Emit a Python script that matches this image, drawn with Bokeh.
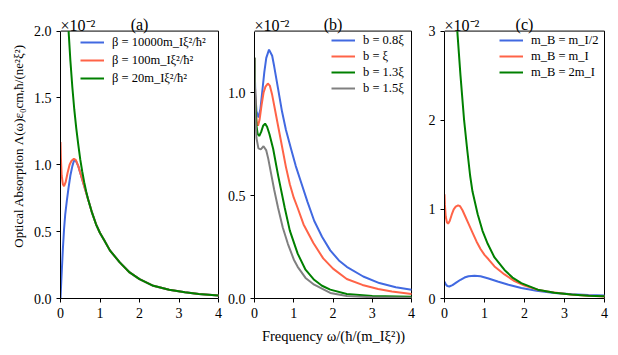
from bokeh.plotting import figure
from bokeh.models import Range1d, FixedTicker, Label, Legend, LegendItem
from bokeh.layouts import row
from bokeh.embed import file_html
from bokeh.resources import INLINE
import math

# ---------------- data ----------------
x_ticks = [0, 1, 2, 3, 4]
x_tick_labels = ["0", "1", "2", "3", "4"]

a_y_ticks = [0.0, 0.5, 1.0, 1.5, 2.0]
a_y_tick_labels = ["0.0", "0.5", "1.0", "1.5", "2.0"]
b_y_ticks = [0.0, 0.5, 1.0]
b_y_tick_labels = ["0.0", "0.5", "1.0"]
c_y_ticks = [0, 1, 2, 3]
c_y_tick_labels = ["0", "1", "2", "3"]
a_ymax, b_ymax, c_ymax = 2.0, 1.3, 3.0

# shared reference curve (beta = 100, b = xi, m_B = m_I)
ref_x = [0, 0.01, 0.03, 0.06, 0.09, 0.13, 0.18, 0.23, 0.28, 0.34, 0.39, 0.45, 0.52, 0.6,
         0.7, 0.8, 0.9, 1.0, 1.1, 1.25, 1.5, 1.75, 2.0, 2.35, 2.75, 3.15, 3.5, 4.0]
ref_y = [1.17, 1.05, 0.92, 0.855, 0.84, 0.87, 0.94, 1.0, 1.03, 1.045, 1.035, 0.99, 0.92, 0.84,
         0.74, 0.64, 0.555, 0.49, 0.44, 0.36, 0.27, 0.195, 0.145, 0.095, 0.066, 0.046, 0.034, 0.022]

# panel (a)
a_blue_x = [0, 0.02, 0.04, 0.06, 0.09, 0.12, 0.16, 0.2, 0.25, 0.3, 0.34, 0.39, 0.45, 0.52, 0.6,
            0.7, 0.8, 0.9, 1.0, 1.1, 1.25, 1.5, 1.75, 2.0, 2.35, 2.75, 3.15, 3.5, 4.0]
a_blue_y = [0, 0.13, 0.25, 0.37, 0.52, 0.63, 0.73, 0.82, 0.92, 0.99, 1.03, 1.03, 0.99, 0.92, 0.84,
            0.74, 0.64, 0.555, 0.49, 0.44, 0.36, 0.27, 0.195, 0.145, 0.095, 0.066, 0.046, 0.034, 0.022]
a_green_x = [0.205, 0.25, 0.3, 0.35, 0.4, 0.45, 0.5, 0.55, 0.6, 0.65, 0.7, 0.8, 0.9, 1.0,
             1.1, 1.25, 1.5, 1.75, 2.0, 2.35, 2.75, 3.15, 3.5, 4.0]
a_green_y = [2.0, 1.78, 1.58, 1.41, 1.27, 1.15, 1.04, 0.95, 0.87, 0.80, 0.74, 0.64, 0.555, 0.49,
             0.44, 0.36, 0.27, 0.195, 0.145, 0.095, 0.066, 0.046, 0.034, 0.022]

# panel (b)
b_blue_x = [0, 0.02, 0.05, 0.1, 0.15, 0.2, 0.25, 0.3, 0.37, 0.45, 0.5, 0.6, 0.7, 0.8, 0.93, 1.05,
            1.18, 1.35, 1.52, 1.72, 1.93, 2.15, 2.35, 2.77, 3.18, 3.6, 4.0]
b_blue_y = [1.17, 1.0, 0.91, 0.88, 0.92, 1.01, 1.1, 1.17, 1.21, 1.18, 1.13, 1.02, 0.91, 0.82, 0.728, 0.645,
            0.569, 0.47, 0.378, 0.30, 0.234, 0.185, 0.154, 0.107, 0.075, 0.055, 0.043]
b_green_x = [0, 0.02, 0.05, 0.08, 0.12, 0.17, 0.22, 0.27, 0.32, 0.38, 0.475, 0.6, 0.77, 0.9, 1.1,
             1.3, 1.52, 1.72, 1.93, 2.35, 3.0, 4.0]
b_green_y = [1.17, 0.95, 0.84, 0.8, 0.79, 0.81, 0.84, 0.85, 0.835, 0.8, 0.728, 0.60, 0.441, 0.33, 0.218,
             0.14, 0.091, 0.062, 0.043, 0.022, 0.012, 0.008]
b_gray_x = [0, 0.02, 0.05, 0.1, 0.16, 0.23, 0.3, 0.35, 0.43, 0.5, 0.6, 0.72, 0.85, 1.0, 1.1, 1.3,
            1.52, 1.93, 2.35, 3.0, 4.0]
b_gray_y = [1.17, 0.9, 0.78, 0.73, 0.725, 0.74, 0.72, 0.68, 0.60, 0.53, 0.441, 0.345, 0.266, 0.19, 0.154, 0.10,
            0.067, 0.027, 0.012, 0.006, 0.004]

# panel (c)
c_blue_x = [0, 0.03, 0.07, 0.12, 0.2, 0.3, 0.4, 0.5, 0.6, 0.75, 0.9, 1.1, 1.33, 1.6, 1.92, 2.3,
            2.75, 3.2, 3.6, 4.0]
c_blue_y = [0.19, 0.16, 0.14, 0.135, 0.15, 0.18, 0.21, 0.235, 0.25, 0.256, 0.25, 0.225, 0.19, 0.155, 0.117, 0.088,
            0.062, 0.048, 0.04, 0.035]
c_green_x = [0.32, 0.4, 0.49, 0.565, 0.64, 0.7, 0.83, 0.95, 1.08, 1.25, 1.5, 1.7, 1.92, 2.33,
             2.75, 3.17, 3.6, 4.0]
c_green_y = [3.0, 2.5, 2.0, 1.68, 1.38, 1.2, 0.945, 0.76, 0.614, 0.46, 0.32, 0.235, 0.172, 0.099,
             0.065, 0.044, 0.032, 0.025]

a_labels = ["β = 10000m_Iξ²/ħ²", "β = 100m_Iξ²/ħ²", "β = 20m_Iξ²/ħ²"]
b_labels = ["b = 0.8ξ", "b = ξ", "b = 1.3ξ", "b = 1.5ξ"]
c_labels = ["m_B = m_I/2", "m_B = m_I", "m_B = 2m_I"]
panel_titles = ["(a)", "(b)", "(c)"]
scale_text = "×10⁻²"
y_label = "Optical Absorption Λ(ω)ε₀cmᵣħ/(ne²ξ²)"
x_label = "Frequency ω/(ħ/(m_Iξ²))"

# ---------------- styling / layout ----------------
BLUE = "#4169E1"
RED = "#FF6347"
GREEN = "#008000"
GRAY = "#808080"
FONT = "Liberation Serif"
H = 346            # figure height
HEAD = 31          # space above the data area (inside the frame)
DATA_H = 271       # height of the data area
BOTTOM = H - HEAD - DATA_H
FRAME_W = 161      # 160 px data width + 1 px so the right spine is fully visible
DATA_W = 160


def make_panel(width, left, right, ymax, yticks, ylabels, title):
    x0, x1 = x_ticks[0], x_ticks[-1]
    p = figure(width=width, height=H, output_backend="svg", toolbar_location=None,
               x_range=Range1d(x0, x0 + (x1 - x0) * FRAME_W / DATA_W),
               y_range=Range1d(0, ymax * (HEAD + DATA_H) / DATA_H))
    p.min_border = 0
    p.min_border_left = left
    p.min_border_right = right
    p.min_border_top = 0
    p.min_border_bottom = BOTTOM
    p.background_fill_color = "white"
    p.border_fill_color = "white"
    p.outline_line_color = None
    p.grid.visible = False
    for ax in (p.xaxis[0], p.yaxis[0]):
        ax.axis_line_color = "black"
        ax.major_tick_line_color = "black"
        ax.major_tick_out = 4
        ax.major_tick_in = 0
        ax.minor_tick_line_color = None
        ax.major_label_text_font = FONT
        ax.major_label_text_font_size = "14px"
        ax.major_label_text_color = "black"
        ax.axis_label_text_font = FONT
        ax.axis_label_text_font_size = "14.5px"
        ax.axis_label_text_font_style = "normal"
        ax.axis_label_text_color = "black"
    p.xaxis[0].bounds = (x0, x1)
    p.xaxis[0].ticker = FixedTicker(ticks=x_ticks)
    p.xaxis[0].major_label_overrides = {t: l for t, l in zip(x_ticks, x_tick_labels)}
    p.xaxis[0].major_label_standoff = 5
    p.yaxis[0].bounds = (0, ymax)
    p.yaxis[0].ticker = FixedTicker(ticks=yticks)
    p.yaxis[0].major_label_overrides = {t: l for t, l in zip(yticks, ylabels)}
    p.yaxis[0].major_label_standoff = 5
    # top and right spines of the data box
    p.line([x0, x1], [ymax, ymax], line_color="black", line_width=1)
    p.line([x1, x1], [0, ymax], line_color="black", line_width=1)
    # panel title and scale factor
    p.add_layout(Label(x=(x0 + x1) / 2, y=ymax, y_offset=7, text=title, text_align="center",
                       text_baseline="alphabetic", text_font=FONT, text_font_size="16px",
                       text_color="black"))
    p.add_layout(Label(x=x0, y=ymax, y_offset=6, text=scale_text, text_align="left",
                       text_baseline="alphabetic", text_font=FONT, text_font_size="16px",
                       text_color="black"))
    return p


def add_legend(p, renderers, labels, x, top, row_h):
    items = [LegendItem(label=l, renderers=[r]) for l, r in zip(labels, renderers)]
    h = row_h * len(items)
    leg = Legend(items=items, location=(x, DATA_H - top - h), padding=0, margin=0, spacing=0,
                 glyph_width=24, glyph_height=row_h, label_height=row_h, label_standoff=8,
                 border_line_color=None, background_fill_alpha=0,
                 label_text_font=FONT, label_text_font_size="12.5px", label_text_color="black")
    p.add_layout(leg)


# y-axis label strip
YL_W = 30
yl = figure(width=YL_W, height=H, output_backend="svg", toolbar_location=None,
            x_range=Range1d(0, YL_W), y_range=Range1d(0, H),
            x_axis_location=None, y_axis_location=None)
yl.min_border = 0
yl.outline_line_color = None
yl.grid.visible = False
yl.background_fill_color = "white"
yl.border_fill_color = "white"
yl.add_layout(Label(x=17.5, y=BOTTOM + 15, text=y_label, angle=math.pi / 2,
                    text_align="left", text_baseline="middle", text_font=FONT,
                    text_font_size="13px", text_color="black"))

# panel (a)
pa = make_panel(194, 28, 5, a_ymax, a_y_ticks, a_y_tick_labels, panel_titles[0])
ra1 = pa.line(a_blue_x, a_blue_y, line_color=BLUE, line_width=2)
ra2 = pa.line(ref_x, ref_y, line_color=RED, line_width=2)
ra3 = pa.line(a_green_x, a_green_y, line_color=GREEN, line_width=2)
add_legend(pa, [ra1, ra2, ra3], a_labels, 20, 6, 18)

# panel (b)
pb = make_panel(192, 27, 4, b_ymax, b_y_ticks, b_y_tick_labels, panel_titles[1])
pb.xaxis[0].axis_label = x_label
pb.xaxis[0].axis_label_standoff = 7
rb1 = pb.line(b_blue_x, b_blue_y, line_color=BLUE, line_width=2)
rb2 = pb.line(ref_x, ref_y, line_color=RED, line_width=2)
rb3 = pb.line(b_green_x, b_green_y, line_color=GREEN, line_width=2)
rb4 = pb.line(b_gray_x, b_gray_y, line_color=GRAY, line_width=2)
add_legend(pb, [rb1, rb2, rb3, rb4], b_labels, 77, 5, 16)

# panel (c)
pc = make_panel(194, 28, 5, c_ymax, c_y_ticks, c_y_tick_labels, panel_titles[2])
rc1 = pc.line(c_blue_x, c_blue_y, line_color=BLUE, line_width=2)
rc2 = pc.line(ref_x, ref_y, line_color=RED, line_width=2)
rc3 = pc.line(c_green_x, c_green_y, line_color=GREEN, line_width=2)
add_legend(pc, [rc1, rc2, rc3], c_labels, 55, 5, 16)

layout = row(yl, pa, pb, pc, spacing=0)
open("out.html", "w").write(file_html(layout, INLINE))
